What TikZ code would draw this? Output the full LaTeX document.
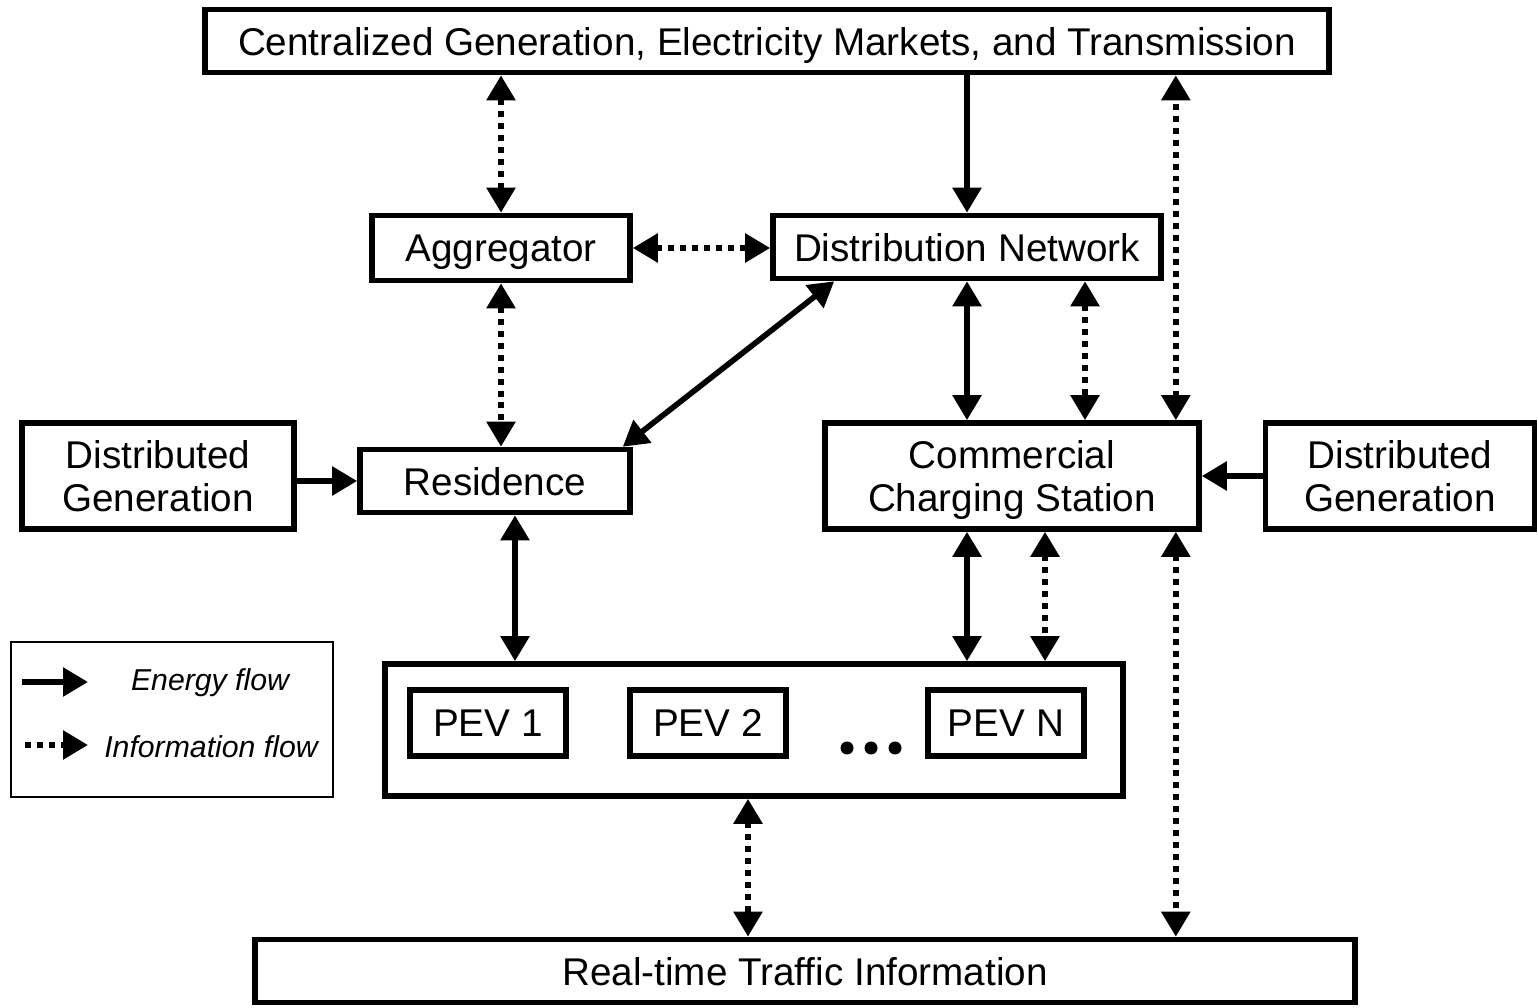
\documentclass[tikz,border=0pt]{standalone}
\usepackage{fontspec}
\setmainfont{Liberation Sans}
\usetikzlibrary{arrows.meta}

\tikzset{
  >={Triangle[length=0.25cm,width=0.28cm]},
  block/.style={draw, line width=1.6pt, align=center, inner sep=0pt, text depth=0pt,
    font=\fontsize{11}{12.5}\selectfont},
  energy/.style={line width=1.6pt},
  info/.style={line width=1.6pt, dash pattern=on 1.7pt off 1.7pt},
  keytext/.style={font=\fontsize{8.6}{10}\selectfont\itshape},
}

\begin{document}
\begin{tikzpicture}
\useasboundingbox (0,0) rectangle (15.38,-10.08);

% boxes
\node[block, minimum width=11.24cm, minimum height=0.63cm] (grid) at (7.67,-0.41) {Centralized Generation, Electricity Markets, and Transmission};
\node[block, minimum width=2.58cm, minimum height=0.65cm] (agg) at (5.01,-2.48) {Aggregator};
\node[block, minimum width=3.88cm, minimum height=0.63cm] (dist) at (9.67,-2.47) {Distribution Network};
\node[block, minimum width=2.72cm, minimum height=1.06cm] (dgleft) at (1.58,-4.76) {Distributed\\Generation};
\node[block, minimum width=2.70cm, minimum height=0.63cm] (res) at (4.95,-4.81) {Residence};
\node[block, minimum width=3.74cm, minimum height=1.06cm] (ccs) at (10.12,-4.76) {Commercial\\Charging Station};
\node[block, minimum width=2.69cm, minimum height=1.06cm] (dgright) at (14.00,-4.76) {Distributed\\Generation};

% vehicles
\node[block, minimum width=7.38cm, minimum height=1.32cm] (fleet) at (7.54,-7.30) {};
\node[block, minimum width=1.56cm, minimum height=0.66cm] (pev1) at (4.88,-7.23) {PEV 1};
\node[block, minimum width=1.56cm, minimum height=0.66cm] (pev2) at (7.08,-7.23) {PEV 2};
\node[block, minimum width=1.56cm, minimum height=0.66cm] (pevn) at (10.06,-7.23) {PEV N};
\foreach \x in {8.47,8.71,8.95}
  \fill (\x,-7.48) circle (0.065);

\node[block, minimum width=11.0cm, minimum height=0.63cm] (traffic) at (8.05,-9.71) {Real-time Traffic Information};

% legend
\node[draw, line width=0.6pt, minimum width=3.22cm, minimum height=1.55cm] (key) at (1.72,-7.195) {};
\coordinate (e1) at (0.22,-6.82);
\coordinate (e2) at (0.88,-6.82);
\coordinate (i1) at (0.25,-7.45);
\coordinate (i2) at (0.88,-7.45);
\draw[energy, ->] (e1) -- (e2);
\draw[info, ->] (i1) -- (i2);
\node[keytext] (etext) at (2.10,-6.83) {Energy flow};
\node[keytext] (itext) at (2.11,-7.47) {Information flow};

% flows
\draw[info, <->] (agg.north) -- (agg.north |- grid.south);
\draw[energy, ->] (grid.south -| dist.north) -- (dist.north);
\draw[info, <->] ([xshift=-0.26cm]ccs.north east) -- ([xshift=-0.26cm]ccs.north east |- grid.south);
\draw[info, <->] (agg.east) -- (agg.east -| dist.west);
\draw[info, <->] (agg.south) -- (agg.south |- res.north);
\draw[energy, <->] ([xshift=-0.1cm]res.north east) -- ([xshift=0.64cm]dist.south west);
\draw[energy, <->] (dist.south) -- (dist.south |- ccs.north);
\draw[info, <->] ([xshift=1.18cm]dist.south) -- ([xshift=1.18cm]dist.south |- ccs.north);
\draw[energy, ->] (dgleft.east |- res.west) -- (res.west);
\draw[energy, ->] (dgright.west) -- (ccs.east);
\draw[energy, <->] ([xshift=0.2cm]res.south) -- ([xshift=0.2cm]res.south |- fleet.north);
\draw[energy, <->] ([xshift=-0.45cm]ccs.south) -- ([xshift=-0.45cm]ccs.south |- fleet.north);
\draw[info, <->] ([xshift=0.33cm]ccs.south) -- ([xshift=0.33cm]ccs.south |- fleet.north);
\draw[info, <->] ([xshift=-0.26cm]ccs.south east) -- ([xshift=-0.26cm]ccs.south east |- traffic.north);
\draw[info, <->] ([xshift=-0.06cm]fleet.south) -- ([xshift=-0.06cm]fleet.south |- traffic.north);
\end{tikzpicture}
\end{document}
